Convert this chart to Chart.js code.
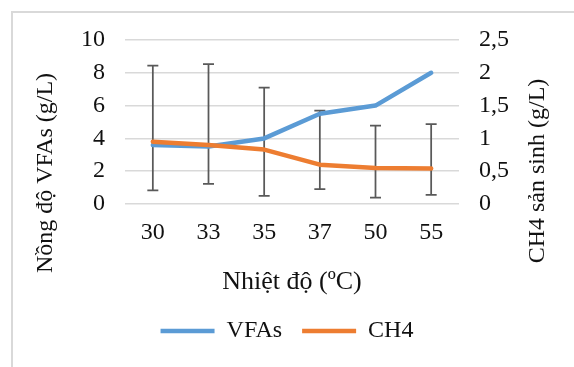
<!DOCTYPE html>
<html lang="vi">
<head>
    <meta charset="UTF-8">
    <title>VFAs - CH4</title>
    <script src="https://cdn.jsdelivr.net/npm/chart.js"></script>
    <style>
        body {
            margin: 0;
            padding: 0;
            background: #ffffff;
            overflow: hidden;
        }
        .wrap {
            position: relative;
            width: 574px;
            height: 367px;
            overflow: hidden;
        }
        .frame {
            position: absolute;
            left: 11px;
            top: 11px;
            width: 600px;
            height: 400px;
            border-left: 2px solid #d9d9d9;
            border-top: 2px solid #d9d9d9;
        }
        canvas {
            position: absolute;
            left: 0;
            top: 0;
        }
    </style>
</head>
<body>
    <div class="wrap">
        <div class="frame"></div>
        <canvas id="chart" width="574" height="367"></canvas>
    </div>

    <script>
        // temperatures (oC)
        const temps = ["30", "33", "35", "37", "50", "55"];
        // VFAs concentration (g/L), left axis
        const vfas = [3.6, 3.5, 4.0, 5.5, 6.0, 8.0];
        // CH4 produced (g/L), right axis
        const ch4 = [0.95, 0.9, 0.83, 0.6, 0.55, 0.54];
        // error bars, in left axis units
        const errLow = [0.83, 1.23, 0.49, 0.9, 0.39, 0.56];
        const errHigh = [8.44, 8.53, 7.1, 5.7, 4.78, 4.87];
        // right axis tick labels (comma decimals)
        const ch4Ticks = ["0", "0,5", "1", "1,5", "2", "2,5"];

        const serif = "'Liberation Serif', 'Times New Roman', serif";
        const textColor = "#111111";

        const errorBars = {
            id: "errorBars",
            beforeDatasetsDraw(chart) {
                const ctx = chart.ctx;
                const x = chart.scales.x;
                const y = chart.scales.y;
                ctx.save();
                ctx.strokeStyle = "#595959";
                ctx.lineWidth = 1.75;
                for (let i = 0; i < temps.length; i++) {
                    const px = x.getPixelForValue(i);
                    const top = y.getPixelForValue(errHigh[i]);
                    const bot = y.getPixelForValue(errLow[i]);
                    ctx.beginPath();
                    ctx.moveTo(px, top);
                    ctx.lineTo(px, bot);
                    ctx.moveTo(px - 5.5, top);
                    ctx.lineTo(px + 5.5, top);
                    ctx.moveTo(px - 5.5, bot);
                    ctx.lineTo(px + 5.5, bot);
                    ctx.stroke();
                }
                ctx.restore();
            }
        };

        // y titles sit lower than the plot centre, like the original
        const sideTitles = {
            id: "sideTitles",
            afterDraw(chart) {
                const ctx = chart.ctx;
                ctx.save();
                ctx.font = "24px " + serif;
                ctx.fillStyle = textColor;
                ctx.textAlign = "center";
                ctx.textBaseline = "middle";
                ctx.translate(46, 173);
                ctx.rotate(-Math.PI / 2);
                ctx.fillText("Nồng độ VFAs (g/L)", 0, 0);
                ctx.restore();

                ctx.save();
                ctx.font = "24px " + serif;
                ctx.fillStyle = textColor;
                ctx.textAlign = "center";
                ctx.textBaseline = "middle";
                ctx.translate(538, 171);
                ctx.rotate(-Math.PI / 2);
                ctx.fillText("CH4 sản sinh (g/L)", 0, 0);
                ctx.restore();
            }
        };

        new Chart(document.getElementById("chart"), {
            type: "line",
            data: {
                labels: temps,
                datasets: [
                    {
                        label: "VFAs",
                        data: vfas,
                        yAxisID: "y",
                        borderColor: "#5b9bd5",
                        backgroundColor: "#5b9bd5",
                        borderWidth: 4.5,
                        borderCapStyle: "round",
                        borderJoinStyle: "round",
                        pointRadius: 0,
                        tension: 0,
                        order: 1
                    },
                    {
                        label: "CH4",
                        data: ch4,
                        yAxisID: "y1",
                        borderColor: "#ed7d31",
                        backgroundColor: "#ed7d31",
                        borderWidth: 4.5,
                        borderCapStyle: "round",
                        borderJoinStyle: "round",
                        pointRadius: 0,
                        tension: 0,
                        order: 0
                    }
                ]
            },
            options: {
                responsive: false,
                animation: false,
                devicePixelRatio: 1,
                layout: { padding: { left: 0, right: 0, top: 40, bottom: 14 } },
                plugins: {
                    tooltip: { enabled: false },
                    legend: {
                        position: "bottom",
                        labels: {
                            usePointStyle: true,
                            pointStyle: "line",
                            pointStyleWidth: 54,
                            padding: 20,
                            color: textColor,
                            font: { family: serif, size: 24 },
                            sort: (a, b) => a.datasetIndex - b.datasetIndex
                        }
                    }
                },
                scales: {
                    x: {
                        offset: true,
                        grid: { display: false, drawTicks: false },
                        border: { display: false },
                        ticks: {
                            color: textColor,
                            padding: 14,
                            autoSkip: false,
                            maxRotation: 0,
                            font: { family: serif, size: 24 }
                        },
                        title: {
                            display: true,
                            text: "Nhiệt độ (ºC)",
                            color: textColor,
                            font: { family: serif, size: 26 },
                            padding: { top: 0, bottom: 1 }
                        },
                        afterFit(scale) { scale.height = 95; }
                    },
                    y: {
                        position: "left",
                        min: 0,
                        max: 10,
                        ticks: {
                            stepSize: 2,
                            padding: 20,
                            autoSkip: false,
                            color: textColor,
                            font: { family: serif, size: 24 }
                        },
                        grid: { color: "#d9d9d9", lineWidth: 1.5, drawTicks: false },
                        border: { display: false },
                        afterFit(scale) { scale.width = 125; }
                    },
                    y1: {
                        position: "right",
                        min: 0,
                        max: 2.5,
                        ticks: {
                            stepSize: 0.5,
                            padding: 20,
                            autoSkip: false,
                            color: textColor,
                            font: { family: serif, size: 24 },
                            callback: (v, i) => ch4Ticks[i]
                        },
                        grid: { display: false, drawTicks: false },
                        border: { display: false },
                        afterFit(scale) { scale.width = 115; }
                    }
                }
            },
            plugins: [errorBars, sideTitles]
        });
    </script>
</body>
</html>
